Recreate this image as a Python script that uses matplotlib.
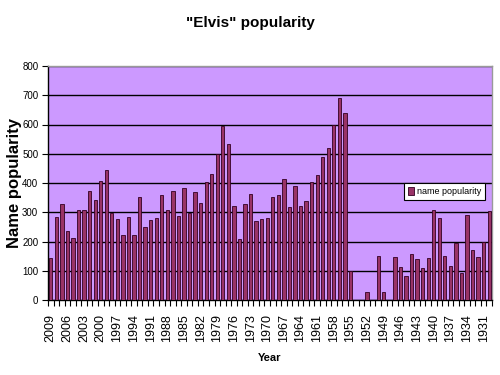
import matplotlib
matplotlib.use("Agg")
import matplotlib.pyplot as plt
import numpy as np
from matplotlib.ticker import FixedLocator, NullFormatter

years = list(range(2009, 1929, -1))
values = [144, 285, 329, 235, 211, 307, 307, 371, 342, 407,
          446, 298, 277, 223, 285, 223, 353, 249, 273, 280,
          359, 307, 373, 288, 384, 298, 370, 331, 403, 431,
          499, 594, 534, 322, 208, 328, 363, 270, 277, 280,
          353, 359, 415, 319, 390, 322, 338, 403, 429, 489,
          520, 598, 691, 641, 98, 0, 0, 27, 0, 150,
          27, 0, 146, 113, 82, 158, 139, 110, 143, 307,
          280, 150, 115, 195, 91, 291, 170, 146, 199, 304]
yticks = [0, 100, 200, 300, 400, 500, 600, 700, 800]

sans = ['Liberation Sans', 'DejaVu Sans']

fig = plt.figure(figsize=(5, 3.75), dpi=100)
ax = fig.add_axes([0.096, 0.2, 0.888, 0.624])
ax.set_facecolor('#CC99FF')

x = np.arange(len(years))
ax.bar(x, values, width=0.6, color='#993366', edgecolor='#330022',
       linewidth=0.6, label='name popularity', zorder=3)

ax.set_xlim(-0.5, len(years) - 0.5)
ax.set_ylim(0, 800)
ax.set_yticks(yticks)
ax.set_yticklabels([str(v) for v in yticks], fontsize=7, family=sans)
ax.yaxis.grid(True, color='black', linewidth=1.0, zorder=1)
ax.set_axisbelow(True)

lab_idx = x[::3]
ax.set_xticks(lab_idx)
ax.set_xticklabels([str(years[i]) for i in lab_idx], rotation=90,
                   fontsize=9, family=sans)
ax.tick_params(axis='x', which='major', length=0, pad=10)
ax.xaxis.set_minor_locator(FixedLocator(np.arange(-0.5, len(years), 1.0)))
ax.xaxis.set_minor_formatter(NullFormatter())
ax.tick_params(axis='x', which='minor', length=4, width=0.8, color='black', direction='out')
ax.tick_params(axis='y', length=4, width=0.8, direction='out', pad=3)

for s in ['top', 'right']:
    ax.spines[s].set_color('#999999')
    ax.spines[s].set_linewidth(1.0)
for s in ['left', 'bottom']:
    ax.spines[s].set_color('black')
    ax.spines[s].set_linewidth(1.0)

fig.text(0.5, 0.94, '"Elvis" popularity', ha='center', va='center',
         fontsize=11, fontweight='bold', family=sans)
ax.set_ylabel('Name popularity', fontsize=12, fontweight='bold', family=sans)
ax.yaxis.set_label_coords(-0.058, 0.5)
fig.text(0.54, 0.045, 'Year', ha='center', va='center', fontsize=8,
         fontweight='bold', family=sans)

leg = ax.legend(loc='upper left', bbox_to_anchor=(0.802, 0.50),
                prop={'family': sans, 'size': 6.5}, frameon=True,
                fancybox=False, edgecolor='black', framealpha=1,
                handlelength=0.7, handleheight=0.9, handletextpad=0.3,
                borderpad=0.45, borderaxespad=0)
leg.get_frame().set_linewidth(0.8)

fig.savefig('out.png', dpi=100)
